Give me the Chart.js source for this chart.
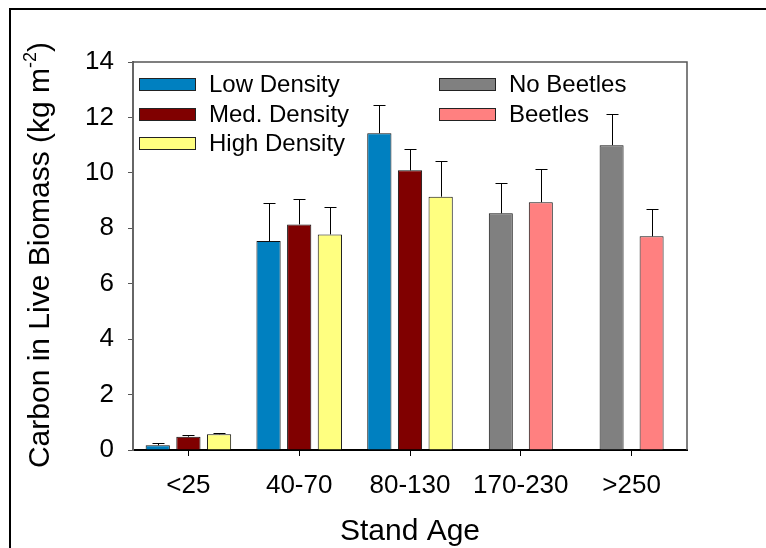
<!DOCTYPE html>
<html>
<head>
<meta charset="utf-8">
<script src="https://cdn.jsdelivr.net/npm/chart.js@4.4.1/dist/chart.umd.min.js"></script>
<style>
  html, body { margin: 0; padding: 0; background: #fff; }
  #wrap { width: 766px; height: 548px; }
</style>
</head>
<body>
<div id="wrap"><canvas id="biomass" width="766" height="548"></canvas></div>
<script>
const standAges = ['<25', '40-70', '80-130', '170-230', '>250'];

// mean carbon in live biomass (kg m-2)
const lowDensity  = [0.17, 7.54, 11.43, null, null];
const medDensity  = [0.48, 8.14, 10.09, null, null];
const highDensity = [0.57, 7.78, 9.14, null, null];
const noBeetles   = [null, null, null, 8.54, 11.00];
const beetles     = [null, null, null, 8.94, 7.71];

// upper error (one SE)
const lowDensityErr  = [0.09, 1.39, 1.01, null, null];
const medDensityErr  = [0.05, 0.90, 0.78, null, null];
const highDensityErr = [0.06, 1.00, 1.30, null, null];
const noBeetlesErr   = [null, null, null, 1.08, 1.11];
const beetlesErr     = [null, null, null, 1.19, 1.00];

const yMin = 0;
const yMax = 14;
const yStep = 2;

const FONT = "'Liberation Sans', Arial, Helvetica, sans-serif";

// outer figure frame + top/right plot border
const frameLines = {
  id: 'frameLines',
  beforeDraw(chart) {
    const ctx = chart.ctx;
    ctx.save();
    ctx.fillStyle = '#fff';
    ctx.fillRect(0, 0, chart.width, chart.height);
    ctx.strokeStyle = '#000';
    ctx.lineWidth = 2;
    ctx.strokeRect(10, 9, chart.width + 40, chart.height + 40);
    ctx.restore();
  },
  afterDraw(chart) {
    const { ctx, chartArea } = chart;
    ctx.save();
    ctx.strokeStyle = '#555';
    ctx.lineWidth = 1.5;
    ctx.beginPath();
    ctx.moveTo(chartArea.left, chartArea.top);
    ctx.lineTo(chartArea.right, chartArea.top);
    ctx.lineTo(chartArea.right, chartArea.bottom);
    ctx.stroke();
    ctx.restore();
  }
};

// one-sided error bars with a small cap
const errorBars = {
  id: 'errorBars',
  afterDatasetsDraw(chart) {
    const ctx = chart.ctx;
    const yScale = chart.scales.y;
    ctx.save();
    ctx.strokeStyle = '#000';
    ctx.lineWidth = 1;
    chart.data.datasets.forEach((ds, i) => {
      const meta = chart.getDatasetMeta(i);
      meta.data.forEach((bar, j) => {
        const v = ds.data[j];
        const e = ds.errors[j];
        if (v == null || e == null) return;
        const x = Math.round(bar.x) + 0.5;
        const yTop = Math.round(yScale.getPixelForValue(v + e)) + 0.5;
        ctx.beginPath();
        ctx.moveTo(x, bar.y);
        ctx.lineTo(x, yTop);
        ctx.moveTo(x - 6, yTop);
        ctx.lineTo(x + 6, yTop);
        ctx.stroke();
      });
    });
    ctx.restore();
  }
};

// legend in two columns: density classes | beetle status
const legendColumns = [[0, 1, 2], [3, 4]];
const twoColumnLegend = {
  id: 'twoColumnLegend',
  afterDraw(chart) {
    const { ctx, chartArea } = chart;
    const colX = [chartArea.left + 6, chartArea.left + 306];
    ctx.save();
    ctx.font = `24px ${FONT}`;
    ctx.textBaseline = 'middle';
    legendColumns.forEach((col, c) => {
      col.forEach((di, r) => {
        const ds = chart.data.datasets[di];
        const x = colX[c];
        const y = Math.round(chartArea.top + 22 + r * 29.7);
        ctx.fillStyle = ds.backgroundColor;
        ctx.fillRect(x, y - 6, 56, 12);
        ctx.strokeStyle = '#222';
        ctx.lineWidth = 1;
        ctx.strokeRect(x + 0.5, y - 6 + 0.5, 56, 12);
        ctx.fillStyle = '#000';
        ctx.fillText(ds.label, x + 70, y + 1);
      });
    });
    ctx.restore();
  }
};

// y axis title with superscript unit
const yTitle = {
  id: 'yTitle',
  afterDraw(chart) {
    const { ctx, chartArea } = chart;
    const main = 'Carbon in Live Biomass (kg m';
    const sup = '-2';
    const close = ')';
    const big = `30px ${FONT}`;
    const small = `18px ${FONT}`;
    ctx.save();
    ctx.translate(41, (chartArea.top + chartArea.bottom) / 2 - 1);
    ctx.rotate(-Math.PI / 2);
    ctx.fillStyle = '#000';
    ctx.textBaseline = 'middle';
    ctx.font = big;
    const w1 = ctx.measureText(main).width;
    const w3 = ctx.measureText(close).width;
    ctx.font = small;
    const w2 = ctx.measureText(sup).width;
    let x = -(w1 + w2 + w3) / 2;
    ctx.font = big;
    ctx.fillText(main, x, 0);
    x += w1;
    ctx.font = small;
    ctx.fillText(sup, x, -10);
    x += w2;
    ctx.font = big;
    ctx.fillText(close, x, 0);
    ctx.restore();
  }
};

const densityBar = { categoryPercentage: 0.83, barPercentage: 0.79 };
const beetleBar  = { categoryPercentage: 0.722, barPercentage: 0.6 };

new Chart(document.getElementById('biomass'), {
  type: 'bar',
  data: {
    labels: standAges,
    datasets: [
      { label: 'Low Density',  data: lowDensity,  errors: lowDensityErr,  backgroundColor: '#0080C0', ...densityBar },
      { label: 'Med. Density', data: medDensity,  errors: medDensityErr,  backgroundColor: '#800000', ...densityBar },
      { label: 'High Density', data: highDensity, errors: highDensityErr, backgroundColor: '#FFFF80', ...densityBar },
      { label: 'No Beetles',   data: noBeetles,   errors: noBeetlesErr,   backgroundColor: '#808080', ...beetleBar },
      { label: 'Beetles',      data: beetles,     errors: beetlesErr,     backgroundColor: '#FF8080', ...beetleBar }
    ]
  },
  options: {
    responsive: false,
    animation: false,
    datasets: {
      bar: {
        skipNull: true,
        borderColor: '#111',
        borderWidth: 1
      }
    },
    layout: { padding: { left: 0, top: 62, right: 79, bottom: 0 } },
    plugins: {
      legend: { display: false },
      tooltip: { enabled: false }
    },
    scales: {
      x: {
        afterFit(scale) { scale.height = 98; },
        grid: {
          offset: false,
          drawOnChartArea: false,
          drawTicks: true,
          tickLength: 6,
          color: '#000'
        },
        border: { display: true, color: '#000', width: 2 },
        ticks: {
          color: '#000',
          font: { family: FONT, size: 26 },
          padding: 14,
          maxRotation: 0,
          autoSkip: false
        },
        title: {
          display: true,
          text: 'Stand Age',
          color: '#000',
          font: { family: FONT, size: 30 },
          padding: { top: 0, bottom: -2 }
        }
      },
      y: {
        min: yMin,
        max: yMax,
        afterFit(scale) { scale.width = 133; },
        grid: {
          drawOnChartArea: false,
          drawTicks: true,
          tickLength: 5,
          color: '#555'
        },
        border: { display: true, color: '#666', width: 2 },
        ticks: {
          stepSize: yStep,
          color: '#000',
          font: { family: FONT, size: 26 },
          padding: 14
        }
      }
    }
  },
  plugins: [frameLines, errorBars, twoColumnLegend, yTitle]
});
</script>
</body>
</html>
